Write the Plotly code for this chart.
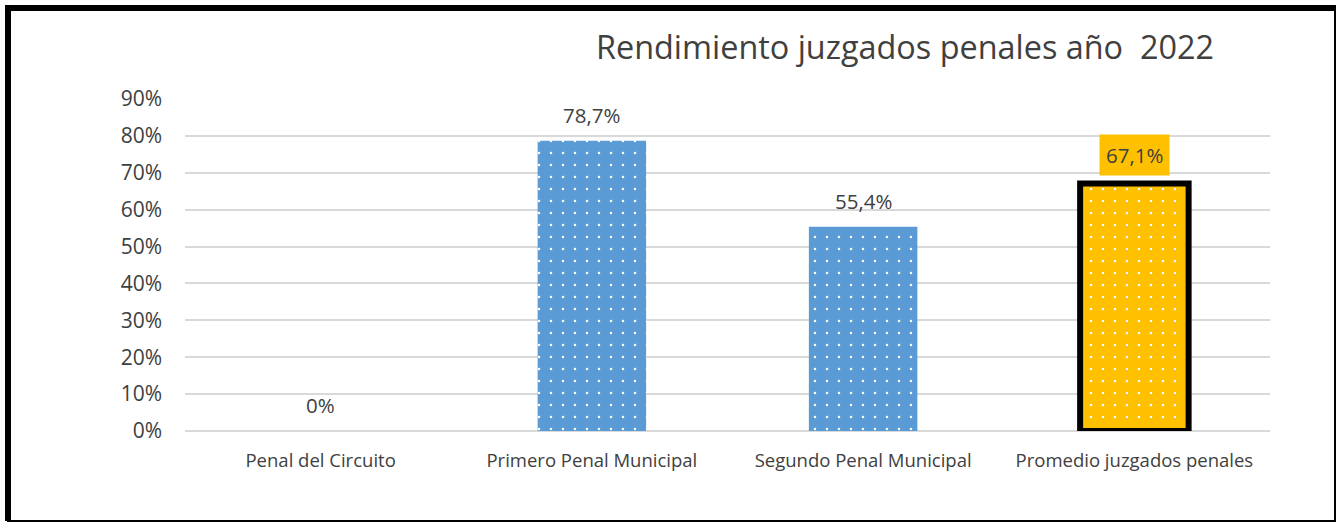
import plotly.graph_objects as go

categories = ["Penal del Circuito", "Primero Penal Municipal", "Segundo Penal Municipal", "Promedio juzgados penales"]
values = [0.0, 0.787, 0.554, 0.671]
labels = ["0%", "78,7%", "55,4%", "67,1%"]
bar_colors = ["#5b9bd5", "#5b9bd5", "#5b9bd5", "#ffc000"]
outline_widths = [0, 0, 0, 6]
boxed_label = [False, False, False, True]
y_ticks = [0, 0.1, 0.2, 0.3, 0.4, 0.5, 0.6, 0.7, 0.8, 0.9]
y_tick_labels = ["0%", "10%", "20%", "30%", "40%", "50%", "60%", "70%", "80%", "90%"]
title_text = "Rendimiento juzgados penales año\u00a0 2022"

W, H = 1339, 523
L, R, T, B = 185, 69, 99, 92
pw, ph = W - L - R, H - T - B

def px_x(x):
    return (x - L) / pw

def px_y(y):
    return (H - B - y) / ph

FONT = "Open Sans"

fig = go.Figure()
for cat, val, col, lw in zip(categories, values, bar_colors, outline_widths):
    fig.add_trace(go.Bar(
        x=[cat],
        y=[val],
        marker=dict(
            color=col,
            line=dict(color="black", width=lw),
            pattern=dict(shape=".", fgcolor="white", bgcolor=col, fgopacity=1, size=12, solidity=0.035,
                         fillmode="overlay"),
        ),
        cliponaxis=False,
        hoverinfo="skip",
    ))

for cat, val, lab, boxed in zip(categories, values, labels, boxed_label):
    fig.add_annotation(
        x=cat, y=val, text=lab, showarrow=False,
        yanchor="bottom", yshift=7 if boxed else 11,
        bgcolor="#ffc000" if boxed else "rgba(0,0,0,0)", borderpad=6 if boxed else 0,
        font=dict(family=FONT, size=20.5, color="#404040"),
    )

shapes = [
    dict(type="rect", xref="paper", yref="paper", x0=px_x(8), x1=px_x(1335), y0=px_y(8), y1=px_y(521),
         line=dict(color="black", width=2), layer="above"),
    dict(type="line", xref="paper", yref="paper", x0=px_x(8), x1=px_x(8), y0=px_y(5), y1=px_y(521),
         line=dict(color="black", width=6), layer="above"),
    dict(type="line", xref="paper", yref="paper", x0=px_x(5), x1=px_x(1336), y0=px_y(8), y1=px_y(8),
         line=dict(color="black", width=6), layer="above"),
]

fig.update_layout(
    width=W, height=H,
    margin=dict(l=L, r=R, t=T, b=B),
    paper_bgcolor="white", plot_bgcolor="white",
    showlegend=False,
    barmode="overlay",
    bargap=0.6,
    title=dict(text=title_text, xref="container", x=905 / W, xanchor="center",
               yref="container", y=1 - 48 / H, yanchor="middle",
               font=dict(family=FONT, size=32.4, color="#404040")),
    xaxis=dict(showgrid=False, showline=False, ticks="", ticklabelstandoff=16,
               tickfont=dict(family=FONT, size=18.5, color="#404040")),
    yaxis=dict(range=[0, 0.9], tickvals=y_ticks, ticktext=y_tick_labels, showgrid=True, gridcolor="#d9d9d9",
               gridwidth=1.5, zeroline=True, zerolinecolor="#d9d9d9", zerolinewidth=1.5,
               tickfont=dict(family=FONT, size=21, color="#404040"), ticklabelstandoff=22),
    shapes=shapes,
)

fig.write_html("out.html", config={"displayModeBar": False},
               post_script="document.body.style.margin='0';")
